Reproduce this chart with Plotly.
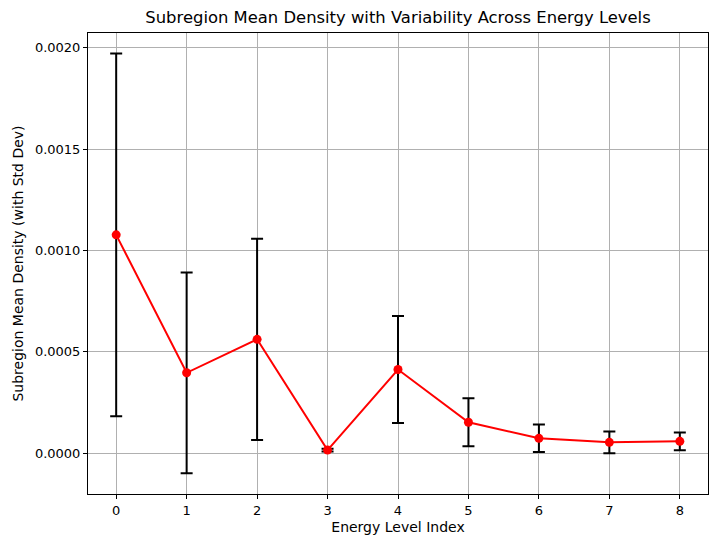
import plotly.graph_objects as go

# values
energy_idx = [0, 1, 2, 3, 4, 5, 6, 7, 8]
mean_density = [0.001077, 0.000397, 0.000562, 0.000016, 0.000413, 0.000153, 0.000074, 0.000054, 0.000059]
std_density = [0.000894, 0.000495, 0.000496, 0.000007, 0.000264, 0.000118, 0.000068, 0.000054, 0.000044]
y_ticks = [0.0, 0.0005, 0.0010, 0.0015, 0.0020]

fig = go.Figure()
fig.add_trace(go.Scatter(
    x=energy_idx, y=mean_density,
    mode="lines+markers",
    line=dict(color="red", width=2),
    marker=dict(color="red", size=9),
    error_y=dict(type="data", array=std_density, visible=True,
                 color="black", thickness=2, width=6),
    showlegend=False,
))

axis_common = dict(
    showline=True, linecolor="black", linewidth=1, mirror=True,
    ticks="outside", ticklen=4, tickcolor="black",
    showgrid=True, gridcolor="#b0b0b0", gridwidth=1,
    zeroline=False,
    tickfont=dict(size=13, color="black"),
)

# page body has an 8px margin, so the figure is a bit smaller than the window
fig.update_layout(
    width=709, height=539,
    margin=dict(l=80, r=9, t=25, b=53),
    plot_bgcolor="white", paper_bgcolor="white",
    font=dict(family="DejaVu Sans", color="black"),
    title=dict(text="Subregion Mean Density with Variability Across Energy Levels",
               xref="paper", x=0.5, xanchor="center", y=0.983, yanchor="middle",
               font=dict(size=16.4, color="black")),
    xaxis=dict(axis_common, range=[-0.4, 8.4], tickmode="array", tickvals=energy_idx,
               title=dict(text="Energy Level Index", font=dict(size=14), standoff=5)),
    yaxis=dict(axis_common, range=[-0.0002005, 0.002072], tickmode="array",
               tickvals=y_ticks, tickformat=".4f",
               title=dict(text="Subregion Mean Density (with Std Dev)", font=dict(size=14), standoff=8)),
)

fig.write_html("out.html")
